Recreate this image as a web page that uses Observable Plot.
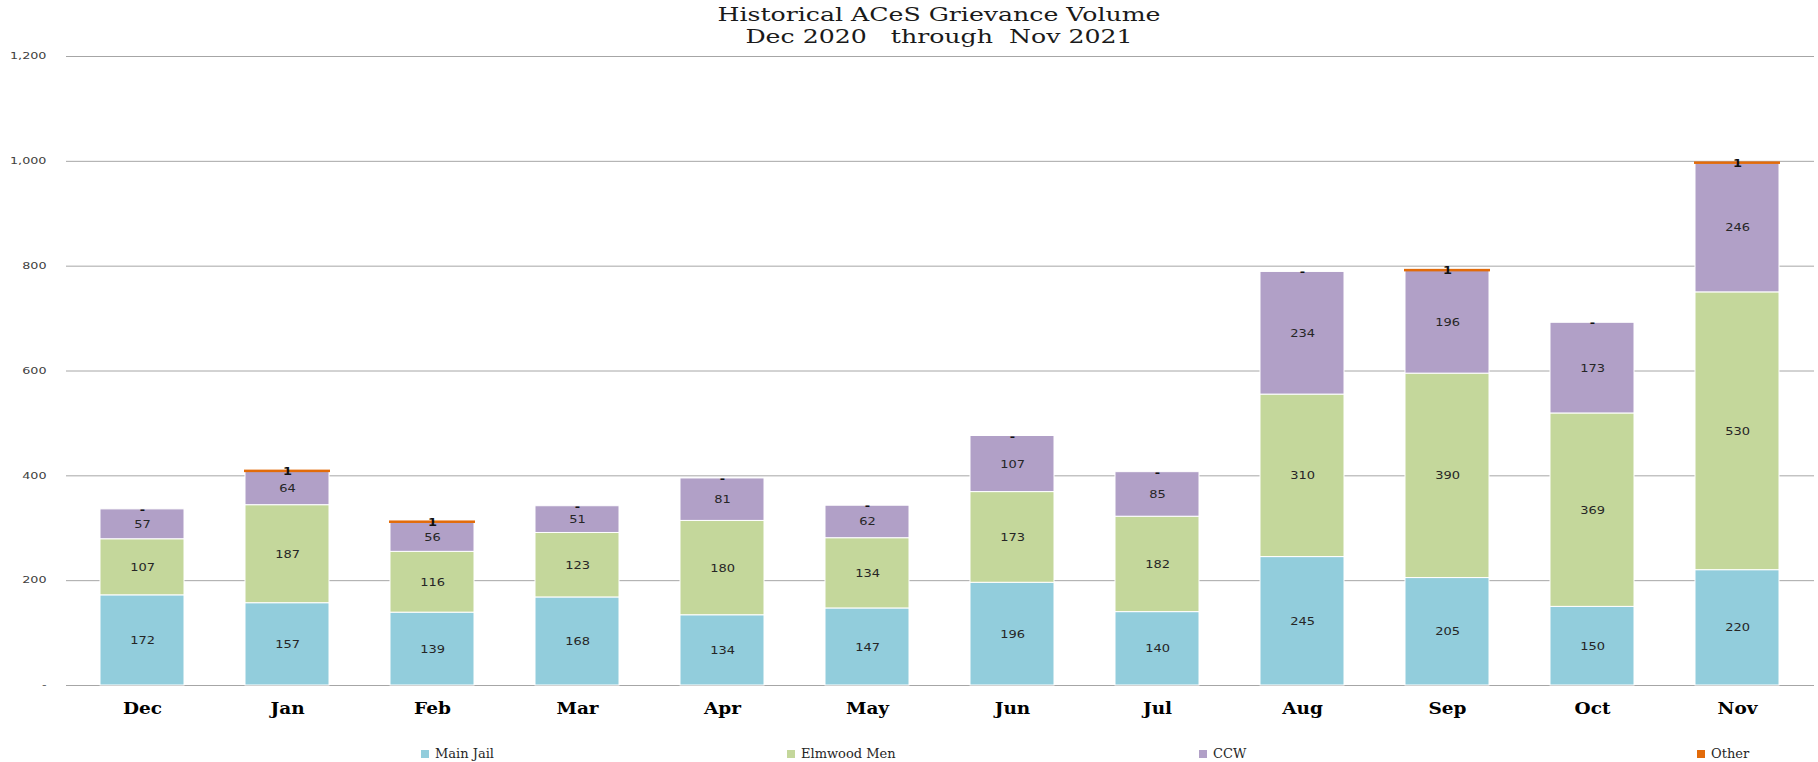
<!DOCTYPE html>
<html><head><meta charset="utf-8">
<script src="https://cdn.jsdelivr.net/npm/d3@7"></script>
<script src="https://cdn.jsdelivr.net/npm/@observablehq/plot@0.6"></script>
<style>
body{margin:0;background:#fff;}
#wrap{position:relative;width:1818px;height:762px;overflow:hidden;background:#fff;}
#title{position:absolute;top:4px;left:939px;transform:translateX(-50%) scaleX(1.4);text-align:center;white-space:pre;font-family:"DejaVu Serif",serif;font-size:18px;line-height:22px;color:#1a1a1a;}
#chart{position:absolute;top:48px;left:0;}
.leg{position:absolute;top:746px;display:flex;align-items:center;font-family:"DejaVu Serif",serif;font-size:13px;color:#262626;white-space:nowrap;}
.leg i{display:inline-block;width:8px;height:8px;margin-right:6px;}
</style>
</head><body>
<div id="wrap">
  <div id="title">Historical ACeS Grievance Volume
Dec 2020   through  Nov 2021</div>
  <div id="chart"></div>
  <div id="legend"></div>
</div>
<script>
const months = ["Dec","Jan","Feb","Mar","Apr","May","Jun","Jul","Aug","Sep","Oct","Nov"];
const seriesNames = ["Main Jail","Elmwood Men","CCW","Other"];
const mainJail   = [172,157,139,168,134,147,196,140,245,205,150,220];
const elmwoodMen = [107,187,116,123,180,134,173,182,310,390,369,530];
const ccw        = [57,64,56,51,81,62,107,85,234,196,173,246];
const other      = [0,1,1,0,0,0,0,0,0,1,0,1];
const seriesColors = ["#92CDDC","#C4D79B","#B1A0C7","#E26B0A"];
const yTicks = [0,200,400,600,800,1000,1200];

const seriesValues = [mainJail, elmwoodMen, ccw, other];
const data = months.flatMap((m, i) => seriesNames.map((s, j) => ({month: m, series: s, value: seriesValues[j][i]})));
const colorOf = Object.fromEntries(seriesNames.map((s, j) => [s, seriesColors[j]]));

const plot = Plot.plot({
  width: 1818, height: 680,
  marginTop: 8, marginBottom: 43, marginLeft: 66, marginRight: 4,
  style: {fontFamily: "DejaVu Sans", background: "white", color: "#262626"},
  x: {domain: months, paddingInner: 0.42, paddingOuter: 0.21, tickSize: 0, tickPadding: 17, label: null},
  y: {domain: [0, 1200], ticks: yTicks, tickSize: 0, tickPadding: 20, label: null,
      tickFormat: d => d === 0 ? "-" : d3.format(",")(d)},
  color: {type: "identity"},
  marks: [
    Plot.ruleY(yTicks, {stroke: "#a6a6a6", strokeWidth: 1}),
    Plot.barY(data, {x: "month", y: "value", z: "series",
      fill: d => colorOf[d.series],
      stroke: d => d.series === "Other" ? colorOf["Other"] : "white",
      strokeWidth: d => d.series === "Other" ? 2 : 1}),
    Plot.text(data, Plot.stackY({x: "month", y: "value", z: "series",
      text: d => d.series === "Other" ? null : String(d.value),
      fontSize: 11, fill: "#262626"})),
    Plot.text(data, Plot.stackY({x: "month", y: "value", z: "series",
      text: d => d.series === "Other" ? (d.value === 0 ? "-" : String(d.value)) : null,
      fontSize: 11, fontWeight: "bold", fill: "#111"}))
  ]
});
document.getElementById("chart").append(plot);

const svg = plot.tagName.toLowerCase() === "svg" ? plot : plot.querySelector("svg");
svg.querySelectorAll("text").forEach(t => {
  let k;
  if (t.closest('[aria-label^="x-axis"]')) {
    t.setAttribute("font-family", "DejaVu Serif");
    t.setAttribute("font-size", 16.5);
    t.setAttribute("font-weight", "bold");
    t.setAttribute("fill", "#000");
    k = 1.12;
  } else if (t.closest('[aria-label^="y-axis"]')) {
    t.setAttribute("font-size", 8.5);
    t.setAttribute("fill", "#404040");
    k = 1.5;
  } else {
    k = 1.18;
  }
  const len = t.getComputedTextLength();
  if (len > 0) {
    t.setAttribute("textLength", len * k);
    t.setAttribute("lengthAdjust", "spacingAndGlyphs");
  }
});

const legendLeft = [421, 787, 1199, 1697];
const legend = document.getElementById("legend");
seriesNames.forEach((s, j) => {
  const el = document.createElement("div");
  el.className = "leg";
  el.style.left = legendLeft[j] + "px";
  el.innerHTML = `<i style="background:${seriesColors[j]}"></i><span>${s}</span>`;
  legend.append(el);
});
</script>
</body></html>
